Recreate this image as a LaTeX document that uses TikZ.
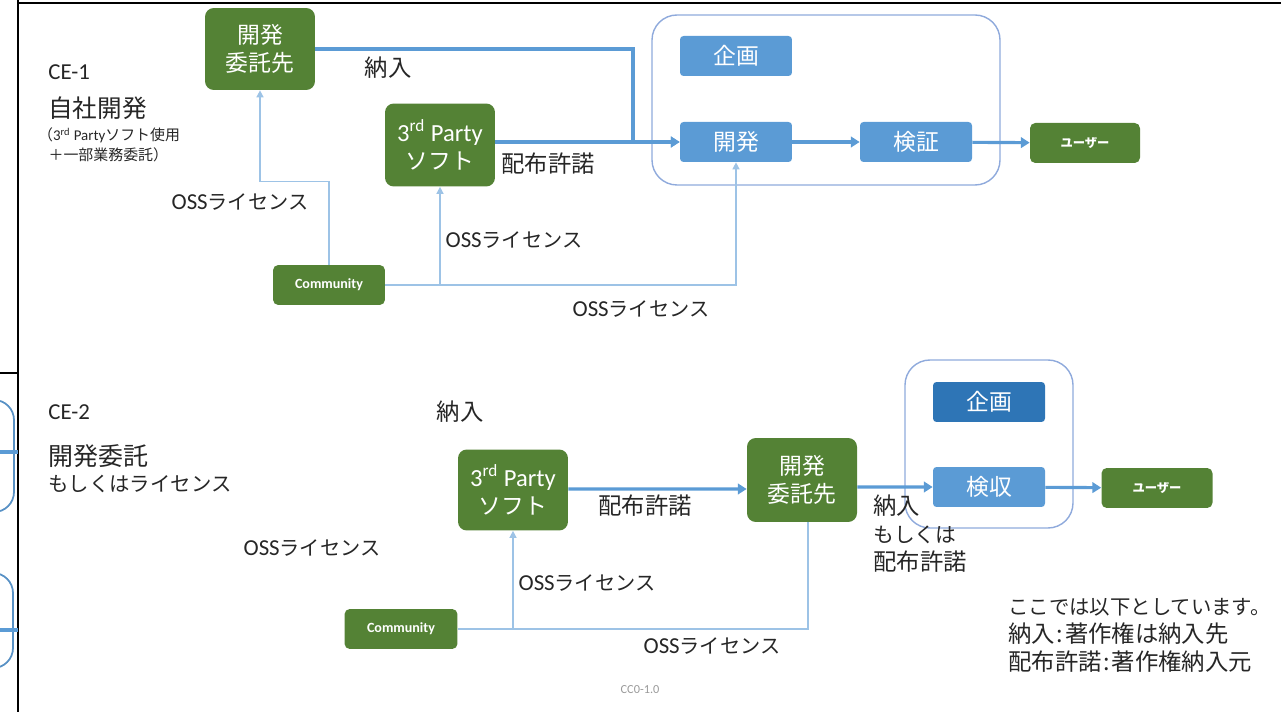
\documentclass[tikz,border=0pt]{standalone}
\usepackage{fontspec}
\setmainfont{Noto Sans CJK JP}
\newfontfamily\latin{Carlito}
\usepackage{tikz}
\usetikzlibrary{arrows.meta}
\usetikzlibrary{positioning}

\definecolor{ogreen}{HTML}{548235}
\definecolor{oblue}{HTML}{5B9BD5}
\definecolor{dblue}{HTML}{2E75B6}
\definecolor{lblue}{HTML}{9DC3E6}
\definecolor{pane}{HTML}{8FAADC}
\definecolor{ink}{HTML}{262626}

\newcommand{\osslic}{{\latin\fontsize{13}{13}\selectfont OSS}ライセンス}
\newcommand{\thirdparty}{{\latin\fontsize{14}{14}\selectfont 3\textsuperscript{rd} Party}\\ソフト}
\newcommand{\jcolon}{\kern1pt:\kern1pt}

\tikzset{
  greenbox/.style={fill=ogreen, text=white, rounded corners=5pt, align=center,
    minimum width=2.2cm, font=\fontsize{13}{16}\selectfont},
  bluebox/.style={fill=oblue, text=white, rounded corners=2pt,
    minimum width=2.24cm, minimum height=0.8cm, font=\fontsize{13}{13}\selectfont},
  smallbox/.style={fill=ogreen, text=white, rounded corners=3pt,
    minimum height=0.8cm, font=\fontsize{7}{7}\selectfont\bfseries},
  pane/.style={draw=pane, line width=0.8pt, rounded corners=0.5cm},
  flow/.style={draw=oblue, line width=1.8pt, -{Triangle[length=5pt,width=6pt]}},
  lic/.style={draw=lblue, line width=0.8pt},
  licarrow/.style={lic, -{Triangle[length=4pt,width=4pt]}},
  lbl/.style={text=ink, font=\fontsize{11.5}{14}\selectfont, inner sep=0pt},
  kanji/.style={lbl, font=\fontsize{13.3}{16}\selectfont},
  frame/.style={draw=black, line width=1.2pt}
}

\begin{document}
\begin{tikzpicture}[x=0.02cm, y=-0.02cm]
\useasboundingbox (0,0) rectangle (1281,712);
% frame and leftover pieces of the next slide
\begin{scope}
\clip (0,0) rectangle (1281,712);
\draw[frame] (18,3) -- (1281,3);
\draw[frame] (18,0) -- (18,712);
\draw[frame] (0,373) -- (18,373);
\draw[draw=dblue!80, line width=1pt, rounded corners=0.4cm] (-60,400) rectangle (14,512);
\draw[draw=dblue!80, line width=1pt, rounded corners=0.4cm] (-60,573) rectangle (13,668);
\draw[draw=oblue, line width=2pt] (0,452) -- (18,452);
\draw[draw=oblue, line width=2pt] (0,630) -- (18,630);
\end{scope}

% CE-1
\node (ce1) [lbl, anchor=west, font=\latin\fontsize{13}{13}\selectfont] at (48,72) {CE-1};
\node (jisha) [lbl, anchor=west, font=\fontsize{14}{14}\selectfont] at (48,108) {自社開発};
\node (jishanote) [lbl, anchor=north west, align=left, font=\fontsize{8.5}{11.5}\selectfont] at (43,127)
  {\kern-3pt（{\latin 3\textsuperscript{rd} Party}ソフト使用\\\kern3pt＋一部業務委託）};
\draw[pane] (652,15) rectangle (1000,185);
\node (itaku1) [greenbox, align=center, minimum height=1.64cm] at (260,49) {開発\\委託先};
\node (party1) [greenbox, minimum height=1.66cm] at (440,145) {\thirdparty};
\node (comm1) [smallbox, minimum width=2.24cm, font=\latin\fontsize{8}{8}\selectfont\bfseries] at (329,285) {Community};
\node (kikaku1) [bluebox] at (736,56) {企画};
\node (kaihatsu) [bluebox] at (736,142) {開発};
\node (kensho) [bluebox] at (916,142) {検証};
\node (user1) [smallbox, minimum width=2.2cm] at (1085,143) {ユーザー};
% flows
\coordinate (join1) at (633,142);
\draw[flow] (itaku1.east) -| (join1) -- (kaihatsu.west);
\draw[flow] (party1.east |- kaihatsu.west) -- (kaihatsu.west);
\draw[flow] (kaihatsu) -- (kensho);
\draw[flow] (kensho) -- (user1);
\node (nonyu1) [kanji] at (388,68) {納入};
\node (kyodaku1) [kanji] at (548,164) {配布許諾};
% licences
\draw[licarrow] (comm1.north) -- ++(0,-83) -| (itaku1.south);
\draw[licarrow] (comm1.east) -| (kaihatsu.south);
\draw[licarrow] (comm1.east -| party1.south) -- (party1.south);
\node (oss1a) [lbl] at (240,202) {\osslic};
\node (oss1b) [lbl] at (514,240) {\osslic};
\node (oss1c) [lbl] at (641,309) {\osslic};

% CE-2
\node (ce2) [lbl, anchor=west, font=\latin\fontsize{13}{13}\selectfont] at (48,412) {CE-2};
\node (itaku) [lbl, anchor=west, font=\fontsize{14.2}{14}\selectfont] at (48,456) {開発委託};
\node (moshiku) [lbl, anchor=west, font=\fontsize{11.6}{14}\selectfont] at (48,484) {もしくはライセンス};
\draw[pane] (905,360) rectangle (1073,528);
\node (party2) [greenbox, minimum height=1.62cm] at (513,490) {\thirdparty};
\node (itaku2) [greenbox, minimum height=1.68cm] at (802,480) {開発\\委託先};
\node (kikaku2) [bluebox, fill=dblue] at (989,402) {企画};
\node (kenshu) [bluebox] at (989,487) {検収};
\node (user2) [smallbox, minimum width=2.22cm] at (1157,488) {ユーザー};
\node (comm2) [smallbox, minimum width=2.26cm, font=\latin\fontsize{8}{8}\selectfont\bfseries] at (401,629) {Community};
% flows
\draw[flow] (party2.east |- itaku2.west) ++(0,9) -- ([yshift=-0.18cm]itaku2.west);
\draw[flow] ([yshift=-0.14cm]itaku2.east) -- (kenshu.west);
\draw[flow] (kenshu) -- (user2);
\node (nonyu2) [kanji] at (460,412) {納入};
\node (kyodaku2) [kanji] at (645,506) {配布許諾};
\node (either) [lbl, anchor=north west, align=left, font=\fontsize{13.3}{16}\selectfont] at (873,494)
  {納入\\{\fontsize{11.8}{16}\selectfont もしくは}\\配布許諾};
% licences
\draw[lic] (comm2.east) -| ([xshift=0.12cm]itaku2.south);
\draw[licarrow] (comm2.east -| party2.south) -- (party2.south);
\node (oss2a) [lbl] at (312,548) {\osslic};
\node (oss2b) [lbl] at (587,583) {\osslic};
\node (oss2c) [lbl] at (712,646) {\osslic};
% note
\node (note1) [lbl, anchor=west, font=\fontsize{11.6}{14}\selectfont] at (1008,607) {ここでは以下としています。};
\node (note2) [lbl, anchor=west, font=\fontsize{13.3}{14}\selectfont] at (1008,634) {納入\jcolon 著作権は納入先};
\node (note3) [lbl, anchor=west, font=\fontsize{13.3}{14}\selectfont] at (1008,662) {配布許諾\jcolon 著作権納入元};
\node (cc0) [lbl, text=black!40, font=\latin\fontsize{7}{7}\selectfont] at (640,690) {CC0-1.0};
\end{tikzpicture}
\end{document}
